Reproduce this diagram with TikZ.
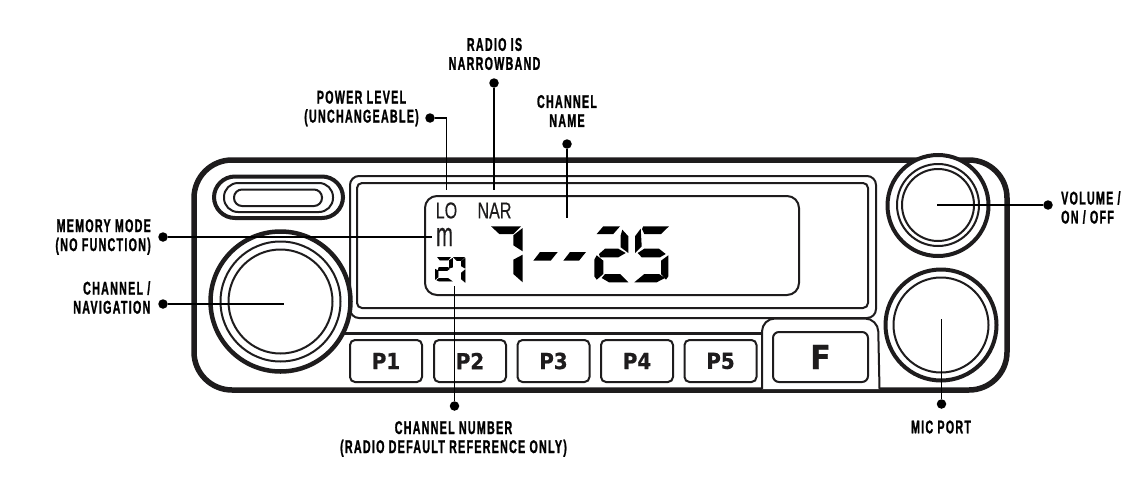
\documentclass[tikz,border=0pt]{standalone}
\usepackage{fontspec}
\setmainfont{Liberation Sans}
\newfontfamily\labfont[FakeStretch=.58,LetterSpace=7,FakeBold=1.2]{Liberation Sans}
\newfontfamily\btnfont[FakeStretch=.9,FakeBold=0.8]{DejaVu Sans}
\newfontfamily\lcdfont[FakeStretch=.7,FakeBold=0.3]{Liberation Sans}
\newfontfamily\lcdmfont[FakeStretch=.78,FakeBold=0.3]{Liberation Sans}
\definecolor{ink}{HTML}{1E1C1D}
\tikzset{
  plate/.style={draw=ink,fill=white,line width=#1},
  plate/.default=2,
  label text/.style={font=\fontsize{18.4}{19}\selectfont\labfont\bfseries,text=black,inner sep=0pt,align=center},
  leader/.style={draw=black,line width=1.3},
  tipdot/.style={circle,fill=black,minimum size=9.5,inner sep=0pt},
  pbutton/.style={draw=ink,fill=white,line width=2,rounded corners=5,minimum width=72,minimum height=42,inner sep=0pt,
    font=\fontsize{22}{22}\selectfont\btnfont\bfseries,text=ink},
  lcdtext/.style={inner sep=0pt,text=ink,font=\fontsize{23}{23}\selectfont\lcdfont},
  segment/.style={fill=black},
  smallseg/.style={fill=black,draw=black,line width=.8},
  segtext/.style={inner sep=0pt,text opacity=0,font=\fontsize{#1}{#1}\selectfont\lcdfont\bfseries},
}
\begin{document}
\begin{tikzpicture}[x=1pt,y=-1pt]
\useasboundingbox (0,0) rectangle (1134,479);
% body
\draw[plate=5.5,rounded corners=38] (194,160) rectangle (1007,390);
% speaker
\draw[plate=4,rounded corners=21] (214,176.5) rectangle (343,218);
\draw[plate=2,rounded corners=14] (224,183) rectangle (333,212);
\draw[plate=2,rounded corners=8] (234,189.5) rectangle (322,206);
% screen
\draw[plate=2,rounded corners=9] (350,176) rectangle (876,318);
\draw[plate=2,rounded corners=5] (357,183) rectangle (868,308);
\draw[plate=2,rounded corners=12] (425,196) rectangle (799,295);
% shelf
\coordinate (shelfL) at (340,333);
\coordinate (shelfR) at (765,333);
\draw[ink,line width=3] (shelfL) -- (shelfR);
% buttons
\node[pbutton] (p1) at (386,361) {P1};
\node[pbutton] (p2) at (470,361) {P2};
\node[pbutton] (p3) at (553.5,361) {P3};
\node[pbutton] (p4) at (637,361) {P4};
\node[pbutton] (p5) at (720.5,361) {P5};
% F housing
\draw[plate=2,rounded corners=13] (762,389) -- (762,318.5) -- (878,318.5) -- (879.5,389);
\node[pbutton,minimum width=95,minimum height=50,rounded corners=6,font=\fontsize{33}{33}\selectfont\btnfont\bfseries] (fkey) at (820.5,357) {F};
% knobs
\draw[plate=4.5] (280.5,301.5) circle (70);
\draw[plate=2] (280.5,301.5) circle (60);
\draw[plate=2] (280.5,301.5) circle (52);
\draw[plate=4] (938,205.5) circle (50.5);
\draw[plate=2] (938,205) circle (41);
\draw[plate=2] (938,205) circle (36);
\draw[plate=4] (941,325) circle (55.5);
\draw[plate=2] (941,325) circle (47.5);
% LCD text
\node[lcdtext] (lo) at (446.5,210.5) {LO};
\node[lcdtext] (nar) at (494.5,210.5) {NAR};
\node[inner sep=0pt,text=ink,font=\fontsize{26}{26}\selectfont\lcdmfont,anchor=base] (mm) at (444.5,246) {\scalebox{1}[1.3]{m}};
% small 27
\node[segtext=26] (smalldigits) at (450,270) {27};
\fill[smallseg] (438,257.5) -- (450,257.5) -- (448,260) -- (440,260) -- cycle;
\fill[smallseg] (452.5,258.5) -- (452.5,267) -- (449.5,268) -- (449.5,260.5) -- cycle;
\fill[smallseg] (439,267.5) -- (448,267.5) -- (449,269) -- (447,270.5) -- (438,270.5) -- cycle;
\fill[smallseg] (435.5,269.5) -- (438,271) -- (438,277) -- (435.5,279) -- cycle;
\fill[smallseg] (439,278.5) -- (448,278.5) -- (451.5,281) -- (439,281) -- (437,280) -- cycle;
\fill[smallseg] (454,257.5) -- (464,257.5) -- (461,260.5) -- (457,260.5) -- cycle;
\fill[smallseg] (465,258.5) -- (465,268) -- (461.5,266) -- (461.5,261.5) -- cycle;
\fill[smallseg] (465,270) -- (465,282) -- (461.5,279) -- (461.5,273) -- cycle;
% big digits
\node[segtext=76] (bigdigits) at (580,254) {7--25};
% 7
\fill[segment] (491,226.3) -- (521,226.3) -- (513.3,234) -- (499.3,234) -- cycle;
\fill[segment] (522.7,228) -- (522.7,251.3) -- (513.3,245.3) -- (513.3,235.3) -- cycle;
\fill[segment] (522.7,254.7) -- (522.7,282.3) -- (513.3,274) -- (513.3,259.7) -- cycle;
% dashes
\fill[segment] (540,252) -- (557.7,252) -- (550.7,260.7) -- (533.3,260.7) -- cycle;
\fill[segment] (570,252) -- (586,252) -- (579,260.7) -- (563.3,260.7) -- cycle;
% 2
\fill[segment] (603.3,226.3) -- (620,226.3) -- (613.3,234) -- (596.7,234) -- cycle;
\fill[segment] (622.3,229.7) -- (628.3,236.3) -- (628.3,253) -- (620.7,247.3) -- (620.7,235.3) -- cycle;
\fill[segment] (605,248.7) -- (618.3,248.7) -- (625.7,253) -- (618.3,257.3) -- (600,257.3) -- (599,254) -- cycle;
\fill[segment] (596.7,255.3) -- (603.3,260.7) -- (603.3,274) -- (596.7,279.7) -- (594.3,276.3) -- (594.3,259.7) -- cycle;
\fill[segment] (605,274) -- (620,274) -- (628.3,282.3) -- (609,282.3) -- (601.7,278) -- cycle;
% 5
\fill[segment] (643.3,226.3) -- (669,226.3) -- (661,234) -- (644.3,234) -- (642,229) -- cycle;
\fill[segment] (640.7,228.7) -- (641.7,246.3) -- (635,253) -- (635,236.3) -- cycle;
\fill[segment] (644.3,248.7) -- (659,248.7) -- (665.7,254) -- (660,257.3) -- (641.7,257.3) -- (637.7,253) -- cycle;
\fill[segment] (668.3,255.3) -- (668.3,276.3) -- (666,279.7) -- (661,274) -- (661,260.7) -- cycle;
\fill[segment] (644.3,274) -- (659,274) -- (665,278) -- (656.7,282.3) -- (634.3,282.3) -- cycle;
% leaders
\node[tipdot] (dotnar) at (494,83) {};
\coordinate (endnar) at (494,189.5);
\draw[leader] (dotnar) -- (endnar);
\node[tipdot] (dotpow) at (430,118) {};
\coordinate (endpow) at (446.5,189.5);
\draw[leader] (dotpow) -| (endpow);
\node[tipdot] (dotname) at (567,144) {};
\coordinate (endname) at (567,218);
\draw[leader] (dotname) -- (endname);
\node[tipdot] (dotmem) at (163,237) {};
\coordinate (endmem) at (432,237);
\draw[leader] (dotmem) -- (endmem);
\node[tipdot] (dotnav) at (163,304) {};
\coordinate (endnav) at (284,304);
\draw[leader] (dotnav) -- (endnav);
\node[tipdot] (dotnum) at (454.5,406) {};
\coordinate (endnum) at (454.5,286);
\draw[leader] (dotnum) -- (endnum);
\node[tipdot] (dotvol) at (1048,205) {};
\coordinate (endvol) at (937,205);
\draw[leader] (dotvol) -- (endvol);
\node[tipdot] (dotmic) at (941.5,404) {};
\coordinate (endmic) at (941.5,319);
\draw[leader] (dotmic) -- (endmic);
% labels
\node[label text] (lnar) at (494.5,54) {RADIO IS\\NARROWBAND};
\node[label text] (lpow) at (361.5,108.5) {POWER LEVEL\\(UNCHANGEABLE)};
\node[label text] (lname) at (567,111) {CHANNEL\\NAME};
\node[label text,align=right,anchor=east] (lmem) at (151,237) {MEMORY MODE\\(NO FUNCTION)};
\node[label text,align=right,anchor=east] (lnav) at (150.5,297.5) {CHANNEL /\\NAVIGATION};
\node[label text] (lnum) at (453.5,439) {CHANNEL NUMBER\\(RADIO DEFAULT REFERENCE ONLY)};
\node[label text,align=left,anchor=west] (lvol) at (1061,207.5) {VOLUME /\\ON / OFF};
\node[label text] (lmic) at (941,427) {MIC PORT};
\end{tikzpicture}
\end{document}
